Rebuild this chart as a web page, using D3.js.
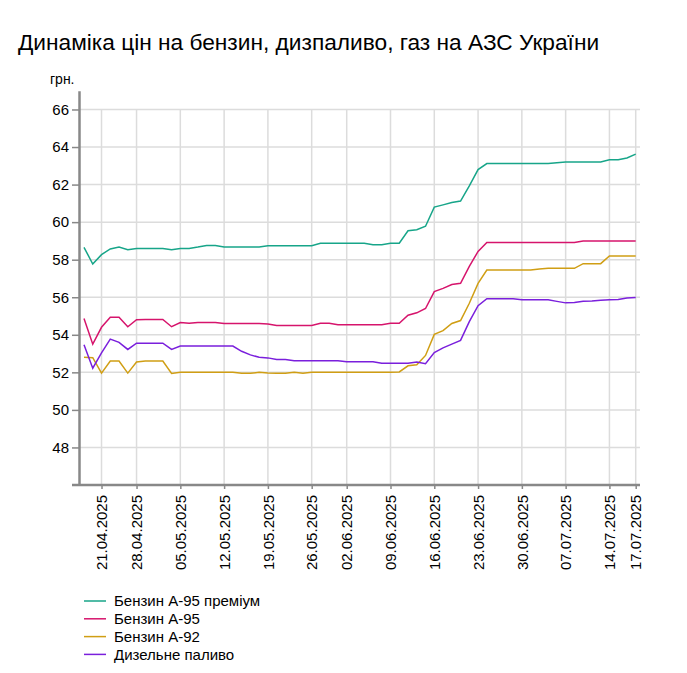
<!DOCTYPE html>
<html>
<head>
<meta charset="utf-8">
<script src="https://cdn.jsdelivr.net/npm/d3@7"></script>
<style>
  body { margin: 0; background: #fff; font-family: "Liberation Sans", Arial, sans-serif; }
  .grid line { stroke: #dcdcdc; stroke-width: 1.5; }
  .axis path, .axis line { stroke: #888; }
  .axis text { font-family: "Liberation Sans", Arial, sans-serif; font-size: 15px; fill: #000; }
  .plotLine { fill: none; stroke-width: 1.5; }
</style>
</head>
<body>
<svg id="chart" width="687" height="673"></svg>
<script>
const dates = [
  "17.04.2025", "18.04.2025",
  "21.04.2025", "22.04.2025", "23.04.2025", "24.04.2025",
  "28.04.2025", "29.04.2025", "30.04.2025", "01.05.2025", "02.05.2025",
  "05.05.2025", "06.05.2025", "07.05.2025", "08.05.2025", "09.05.2025",
  "12.05.2025", "13.05.2025", "14.05.2025", "15.05.2025", "16.05.2025",
  "19.05.2025", "20.05.2025", "21.05.2025", "22.05.2025", "23.05.2025",
  "26.05.2025", "27.05.2025", "28.05.2025", "29.05.2025",
  "02.06.2025", "03.06.2025", "04.06.2025", "05.06.2025", "06.06.2025",
  "09.06.2025", "10.06.2025", "11.06.2025", "12.06.2025", "13.06.2025",
  "16.06.2025", "17.06.2025", "18.06.2025", "19.06.2025", "20.06.2025",
  "23.06.2025", "24.06.2025", "25.06.2025", "26.06.2025", "27.06.2025",
  "30.06.2025", "01.07.2025", "02.07.2025", "03.07.2025", "04.07.2025",
  "07.07.2025", "08.07.2025", "09.07.2025", "10.07.2025", "11.07.2025",
  "14.07.2025", "15.07.2025", "16.07.2025", "17.07.2025"
]

const tickLabels = [
  "21.04.2025", "28.04.2025", "05.05.2025", "12.05.2025", "19.05.2025",
  "26.05.2025", "02.06.2025", "09.06.2025", "16.06.2025", "23.06.2025",
  "30.06.2025", "07.07.2025", "14.07.2025", "17.07.2025"
]

const yTicks = [48, 50, 52, 54, 56, 58, 60, 62, 64, 66]

const a95premium = [
  58.66, 57.77, 58.27, 58.57, 58.67, 58.53, 58.6, 58.6, 58.6, 58.6, 58.53,
  58.6, 58.6, 58.67, 58.76, 58.76, 58.67, 58.67, 58.67, 58.67, 58.67,
  58.74, 58.74, 58.74, 58.74, 58.74, 58.74, 58.87, 58.87, 58.87,
  58.87, 58.87, 58.87, 58.8, 58.8, 58.88, 58.88, 59.54, 59.6, 59.78,
  60.8, 60.92, 61.05, 61.12, 61.93, 62.8, 63.12, 63.12, 63.12, 63.12,
  63.12, 63.12, 63.12, 63.12, 63.16, 63.2, 63.2, 63.2, 63.2, 63.2,
  63.32, 63.32, 63.42, 63.62
]

const a95 = [
  54.87, 53.5, 54.4, 54.93, 54.93, 54.43, 54.8, 54.82, 54.82, 54.82, 54.43,
  54.65, 54.62, 54.66, 54.66, 54.66, 54.6, 54.6, 54.6, 54.6, 54.6,
  54.58, 54.5, 54.5, 54.5, 54.5, 54.5, 54.61, 54.61, 54.54,
  54.54, 54.54, 54.54, 54.54, 54.54, 54.61, 54.61, 55.04, 55.17, 55.4,
  56.3, 56.47, 56.68, 56.74, 57.64, 58.44, 58.92, 58.92, 58.92, 58.92,
  58.92, 58.92, 58.92, 58.92, 58.92, 58.92, 58.92, 59.0, 59.0, 59.0,
  59.0, 59.0, 59.0, 59.0
]

const a92 = [
  52.8, 52.78, 51.96, 52.6, 52.6, 51.96, 52.55, 52.6, 52.6, 52.6, 51.94,
  52.0, 52.0, 52.0, 52.0, 52.0, 52.0, 52.0, 51.95, 51.95, 52.0,
  51.96, 51.95, 51.95, 52.0, 51.95, 52.0, 52.0, 52.0, 52.0,
  52.0, 52.0, 52.0, 52.0, 52.0, 52.0, 52.02, 52.35, 52.4, 52.9,
  54.02, 54.22, 54.6, 54.76, 55.68, 56.74, 57.45, 57.45, 57.45, 57.45,
  57.45, 57.45, 57.5, 57.54, 57.54, 57.54, 57.54, 57.79, 57.79, 57.79,
  58.2, 58.2, 58.2, 58.2
]

const diesel = [
  53.47, 52.22, 53.04, 53.77, 53.6, 53.22, 53.55, 53.55, 53.55, 53.55, 53.22,
  53.4, 53.4, 53.4, 53.4, 53.4, 53.4, 53.4, 53.12, 52.93, 52.8,
  52.77, 52.68, 52.68, 52.62, 52.62, 52.62, 52.62, 52.62, 52.62,
  52.56, 52.56, 52.56, 52.56, 52.48, 52.48, 52.48, 52.48, 52.55, 52.46,
  53.05, 53.3, 53.5, 53.7, 54.7, 55.55, 55.92, 55.92, 55.92, 55.92,
  55.86, 55.86, 55.86, 55.86, 55.78, 55.7, 55.72, 55.78, 55.8, 55.84,
  55.86, 55.88, 55.96, 55.98
]

const seriesNames = ["Бензин А-95 преміум", "Бензин А-95", "Бензин А-92", "Дизельне паливо"]
const seriesColors = ["#17a589", "#d6146c", "#d09e14", "#7a1fdc"]
const seriesValues = [a95premium, a95, a92, diesel]

const svg = d3.select("#chart")

// plot area
const plotLeft = 79, plotRight = 640, plotTop = 90.7, plotBottom = 485

const x = d3.scaleLinear().domain([0, dates.length - 1]).range([84, 635.7])
const y = d3.scaleLinear().domain([46, 67]).range([plotBottom, plotTop])

const tickIdx = tickLabels.map(d => dates.indexOf(d))

// title
svg.append("text")
  .attr("x", 18).attr("y", 49.5)
  .style("font-size", "22.7px")
  .text("Динаміка цін на бензин, дизпаливо, газ на АЗС України")

svg.append("text")
  .attr("x", 50).attr("y", 84)
  .style("font-size", "14px")
  .text("грн.")

// grid
const grid = svg.append("g").attr("class", "grid")
grid.selectAll(".h").data(yTicks).join("line")
  .attr("class", "h")
  .attr("x1", plotLeft).attr("x2", plotRight)
  .attr("y1", d => y(d)).attr("y2", d => y(d))
grid.selectAll(".v").data(tickIdx).join("line")
  .attr("class", "v")
  .attr("x1", d => x(d)).attr("x2", d => x(d))
  .attr("y1", y(66)).attr("y2", plotBottom)

// axes
const yAxis = svg.append("g")
  .attr("class", "axis")
  .attr("transform", "translate(" + plotLeft + ",0)")
  .call(d3.axisLeft(y).tickValues(yTicks).tickSize(7).tickSizeOuter(0).tickPadding(3).tickFormat(d3.format("d")))
yAxis.select(".domain").style("stroke-width", 2.5)
yAxis.selectAll(".tick line").style("stroke-width", 1.5)

const xAxis = svg.append("g")
  .attr("class", "axis")
  .attr("transform", "translate(0," + plotBottom + ")")
  .call(d3.axisBottom(x).tickValues(tickIdx).tickSize(4).tickSizeOuter(0).tickFormat(i => dates[i]))
xAxis.select(".domain").attr("d", "M72,0H" + plotRight).style("stroke-width", 2.5)
xAxis.selectAll(".tick line").style("stroke-width", 1.5)
xAxis.selectAll(".tick text")
  .attr("transform", "rotate(-90)")
  .attr("x", -10).attr("y", 0).attr("dy", "0.35em")
  .style("text-anchor", "end")

// lines
const valueLine = d3.line()
  .x((d, i) => x(i))
  .y(d => y(d))

svg.append("g").selectAll("path")
  .data(seriesValues)
  .join("path")
  .attr("class", "plotLine")
  .attr("stroke", (d, i) => seriesColors[i])
  .attr("d", valueLine)

// legend
const legend = svg.append("g").selectAll("g")
  .data(seriesNames)
  .join("g")
  .attr("transform", (d, i) => "translate(84," + (601 + i * 17.8) + ")")
legend.append("line")
  .attr("x1", 0).attr("x2", 22)
  .attr("stroke", (d, i) => seriesColors[i])
  .attr("stroke-width", 1.5)
legend.append("text")
  .attr("x", 30).attr("dy", "0.35em")
  .style("font-size", "15px")
  .text(d => d)
</script>
</body>
</html>
